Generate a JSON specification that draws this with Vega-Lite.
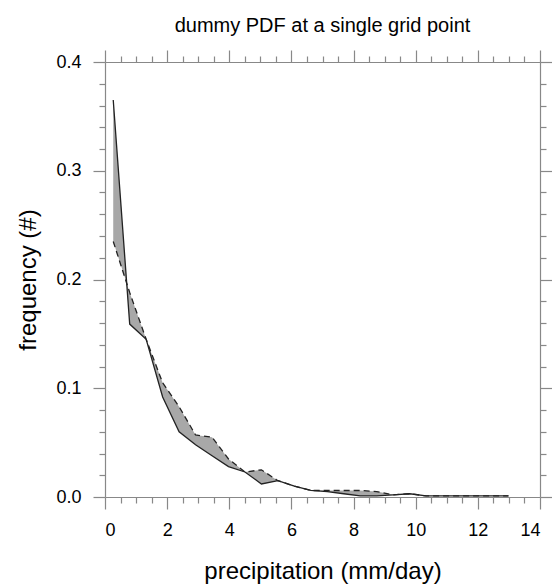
{
  "$schema": "https://vega.github.io/schema/vega-lite/v6.json",
  "width": 435,
  "height": 435,
  "autosize": "none",
  "padding": {"left": 105, "top": 62, "right": 12, "bottom": 87},
  "background": "white",
  "title": {"text": "dummy PDF at a single grid point", "font": "Liberation Sans", "fontSize": 20, "fontWeight": "normal", "color": "black", "offset": 13},
  "config": {
    "view": {"stroke": null},
    "axis": {"grid": false, "domainColor": "#888", "domainWidth": 1.2, "tickColor": "#888", "tickWidth": 1.2, "labelFont": "Liberation Sans", "labelColor": "black", "titleFont": "Liberation Sans", "titleFontWeight": "normal", "titleColor": "black", "labelFontSize": 18, "titleFontSize": 24}
  },
  "data": {"values": [
    {"x": 0.265, "s": 0.365, "d": 0.235},
    {"x": 0.795, "s": 0.159, "d": 0.188},
    {"x": 1.325, "s": 0.145, "d": 0.145},
    {"x": 1.855, "s": 0.092, "d": 0.105},
    {"x": 2.385, "s": 0.06, "d": 0.083},
    {"x": 2.915, "s": 0.048, "d": 0.057},
    {"x": 3.445, "s": 0.038, "d": 0.055},
    {"x": 3.975, "s": 0.028, "d": 0.035},
    {"x": 4.505, "s": 0.023, "d": 0.023},
    {"x": 5.035, "s": 0.012, "d": 0.025},
    {"x": 5.565, "s": 0.015, "d": 0.015},
    {"x": 6.095, "s": 0.01, "d": 0.01},
    {"x": 6.625, "s": 0.006, "d": 0.006},
    {"x": 7.155, "s": 0.005, "d": 0.006},
    {"x": 7.685, "s": 0.003, "d": 0.006},
    {"x": 8.215, "s": 0.001, "d": 0.006},
    {"x": 8.745, "s": 0.001, "d": 0.005},
    {"x": 9.275, "s": 0.002, "d": 0.002},
    {"x": 9.805, "s": 0.003, "d": 0.003},
    {"x": 10.335, "s": 0.001, "d": 0.001},
    {"x": 10.865, "s": 0.001, "d": 0.001},
    {"x": 11.395, "s": 0.001, "d": 0.001},
    {"x": 11.925, "s": 0.001, "d": 0.001},
    {"x": 12.455, "s": 0.001, "d": 0.001},
    {"x": 12.985, "s": 0.001, "d": 0.001}
  ]},
  "resolve": {"axis": {"x": "independent", "y": "independent"}},
  "layer": [
    {
      "mark": {"type": "area", "color": "#a8a8a8", "opacity": 1},
      "encoding": {
        "x": {"field": "x", "type": "quantitative", "scale": {"domain": [0, 14], "nice": false},
              "axis": {"orient": "bottom", "values": [0, 2, 4, 6, 8, 10, 12, 14], "tickSize": 12, "labelPadding": 12, "title": "precipitation (mm/day)", "titlePadding": 20}},
        "y": {"field": "s", "type": "quantitative", "scale": {"domain": [0, 0.4], "nice": false, "zero": true},
              "axis": {"orient": "left", "values": [0, 0.1, 0.2, 0.3, 0.4], "format": ".1f", "tickSize": 12, "labelPadding": 12, "title": "frequency (#)", "titlePadding": 15}},
        "y2": {"field": "d"}
      }
    },
    {
      "mark": {"type": "line", "color": "#222", "strokeWidth": 1.3},
      "encoding": {
        "x": {"field": "x", "type": "quantitative", "axis": {"orient": "top", "values": [0, 2, 4, 6, 8, 10, 12, 14], "tickSize": 12, "labels": false, "title": null}},
        "y": {"field": "s", "type": "quantitative", "axis": {"orient": "right", "values": [0, 0.1, 0.2, 0.3, 0.4], "tickSize": 12, "labels": false, "title": null}}
      }
    },
    {
      "mark": {"type": "line", "color": "#222", "strokeWidth": 1.3, "strokeDash": [6, 4]},
      "encoding": {
        "x": {"field": "x", "type": "quantitative", "axis": {"orient": "bottom", "values": [0.5,1,1.5,2.5,3,3.5,4.5,5,5.5,6.5,7,7.5,8.5,9,9.5,10.5,11,11.5,12.5,13,13.5], "tickSize": 6, "labels": false, "domain": false, "title": null}},
        "y": {"field": "d", "type": "quantitative", "axis": {"orient": "left", "values": [0.02,0.04,0.06,0.08,0.12,0.14,0.16,0.18,0.22,0.24,0.26,0.28,0.32,0.34,0.36,0.38], "tickSize": 6, "labels": false, "domain": false, "title": null}}
      }
    },
    {
      "mark": {"type": "point", "opacity": 0},
      "encoding": {
        "x": {"field": "x", "type": "quantitative", "axis": {"orient": "top", "values": [0.5,1,1.5,2.5,3,3.5,4.5,5,5.5,6.5,7,7.5,8.5,9,9.5,10.5,11,11.5,12.5,13,13.5], "tickSize": 6, "labels": false, "domain": false, "title": null}},
        "y": {"field": "d", "type": "quantitative", "axis": {"orient": "right", "values": [0.02,0.04,0.06,0.08,0.12,0.14,0.16,0.18,0.22,0.24,0.26,0.28,0.32,0.34,0.36,0.38], "tickSize": 6, "labels": false, "domain": false, "title": null}}
      }
    }
  ]
}
